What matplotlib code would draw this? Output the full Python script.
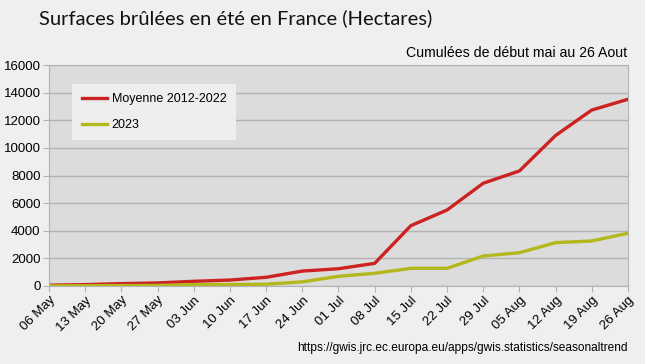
import matplotlib.pyplot as plt
import numpy as np

# DATA
dates = ['06 May', '13 May', '20 May', '27 May', '03 Jun', '10 Jun', '17 Jun', '24 Jun',
         '01 Jul', '08 Jul', '15 Jul', '22 Jul', '29 Jul', '05 Aug', '12 Aug', '19 Aug', '26 Aug']
moyenne = [60, 100, 170, 220, 340, 430, 630, 1080, 1250, 1640, 4370, 5500, 7440, 8330, 10900, 12740, 13520]
an2023 = [10, 20, 30, 40, 100, 110, 130, 300, 700, 920, 1280, 1280, 2170, 2410, 3140, 3260, 3820]
yticks = [0, 2000, 4000, 6000, 8000, 10000, 12000, 14000, 16000]

plt.rcParams['font.family'] = ['Liberation Sans Narrow', 'Liberation Sans', 'DejaVu Sans']

fig = plt.figure(figsize=(6.45, 3.64), dpi=100)
fig.patch.set_facecolor('#efefef')
ax = fig.add_axes([0.076, 0.2143, 0.8976, 0.6071])
ax.set_facecolor('#dcdcdc')

x = np.arange(len(dates))
ax.plot(x, moyenne, color='#cc2222', lw=2.4, label='Moyenne 2012-2022', solid_joinstyle='round')
ax.plot(x, an2023, color='#b3b81c', lw=2.4, label='2023', solid_joinstyle='round')

ax.set_xlim(0, len(dates) - 1)
ax.set_ylim(0, 16000)
ax.set_yticks(yticks)
ax.set_yticklabels([str(v) for v in yticks], fontsize=9.5)
ax.set_xticks(x)
ax.set_xticklabels(dates, rotation=45, ha='right', rotation_mode='anchor', fontsize=9.5)
ax.grid(axis='y', color='#b3b3b3', lw=1)
ax.set_axisbelow(True)
ax.tick_params(axis='both', color='#b3b3b3', length=4, pad=2)
for s in ax.spines.values():
    s.set_color('#b3b3b3')

leg = ax.legend(loc='upper left', bbox_to_anchor=(0.04, 0.915), fontsize=9, frameon=True,
                fancybox=False, borderpad=0.75, handlelength=2.0, handletextpad=0.4,
                labelspacing=1.1, borderaxespad=0)
leg.get_frame().set_facecolor('#eeeeee')
leg.get_frame().set_edgecolor('none')
leg.get_frame().set_alpha(1)

fig.text(0.06, 0.95, 'Surfaces brûlées en été en France (Hectares)', fontsize=14.5,
         family=['Lato', 'DejaVu Sans'], va='center', ha='left', color='#111111')
fig.text(0.973, 0.855, 'Cumulées de début mai au 26 Aout', fontsize=10.2, ha='right', va='center')
fig.text(0.973, 0.044, 'https://gwis.jrc.ec.europa.eu/apps/gwis.statistics/seasonaltrend',
         fontsize=8.6, ha='right', va='center')

plt.savefig('out.png', dpi=100, facecolor=fig.get_facecolor())
